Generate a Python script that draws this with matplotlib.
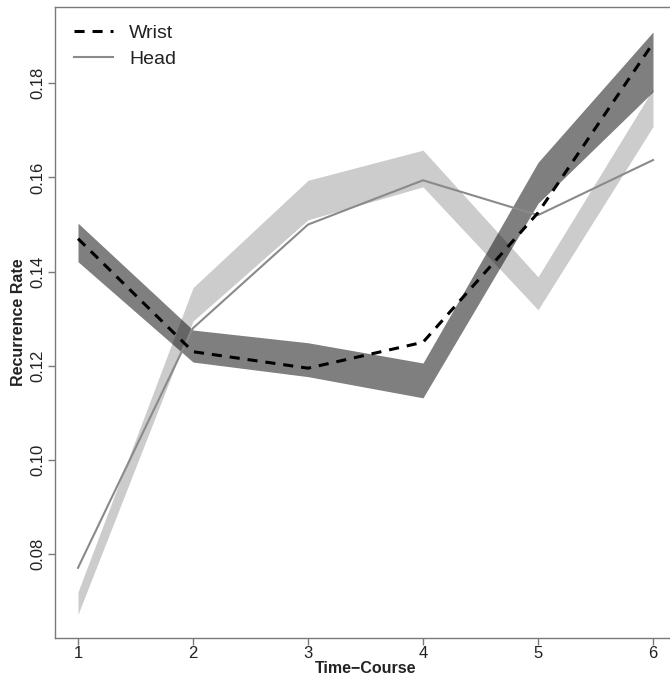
import matplotlib
matplotlib.use("Agg")
import matplotlib.pyplot as plt

plt.rcParams['font.family'] = ['Liberation Sans', 'DejaVu Sans']

time = [1, 2, 3, 4, 5, 6]
wrist_mean = [0.147, 0.123, 0.1195, 0.125, 0.1525, 0.1885]
wrist_lower = [0.1421, 0.1208, 0.1177, 0.1132, 0.1545, 0.1782]
wrist_upper = [0.1503, 0.1276, 0.1249, 0.1206, 0.1632, 0.1909]
head_mean = [0.0771, 0.128, 0.150, 0.1594, 0.152, 0.1637]
head_lower = [0.0672, 0.1295, 0.151, 0.158, 0.1319, 0.1708]
head_upper = [0.0720, 0.1366, 0.1594, 0.1658, 0.1389, 0.1788]
xticks = [1, 2, 3, 4, 5, 6]
yticks = [0.08, 0.10, 0.12, 0.14, 0.16, 0.18]
ytick_labels = ["0.08", "0.10", "0.12", "0.14", "0.16", "0.18"]

fig = plt.figure(figsize=(6.70, 6.79), dpi=100)
ax = fig.add_axes([55/670, 41/679, (676-55)/670, (672-41)/679])

ax.fill_between(time, head_lower, head_upper, color='black', alpha=0.2, linewidth=0)
ax.fill_between(time, wrist_lower, wrist_upper, color='black', alpha=0.5, linewidth=0)
l2, = ax.plot(time, head_mean, color='#8a8a8a', lw=1.5, label='Head')
l1, = ax.plot(time, wrist_mean, color='black', lw=2.2, dashes=(3.3, 2.6), label='Wrist')

ax.set_xlim(0.8, 6.2)
ax.set_ylim(0.0622, 0.1962)
ax.set_xticks(xticks)
ax.set_xticklabels([str(t) for t in xticks])
ax.set_yticks(yticks)
ax.set_yticklabels(ytick_labels, rotation=90, va='center')

for s in ax.spines.values():
    s.set_color('#7a7a7a')
    s.set_linewidth(1.0)
ax.tick_params(axis='both', colors='#7a7a7a', labelcolor='#222222', labelsize=12,
               length=5, width=1, direction='out')
ax.tick_params(axis='y', pad=2)
ax.tick_params(axis='x', pad=1)

ax.set_xlabel('Time\u2212Course', fontsize=11.5, fontweight='bold', color='#222222', labelpad=0)
ax.set_ylabel('Recurrence Rate', fontsize=11.5, fontweight='bold', color='#222222', labelpad=3)

leg = ax.legend(handles=[l1, l2], loc='upper left', frameon=False, fontsize=14,
                handlelength=2.0, handletextpad=0.85, labelspacing=0.45,
                borderaxespad=0.0, bbox_to_anchor=(0.018, 0.985))
for t in leg.get_texts():
    t.set_color('#222222')

fig.savefig('out.png', dpi=100)
